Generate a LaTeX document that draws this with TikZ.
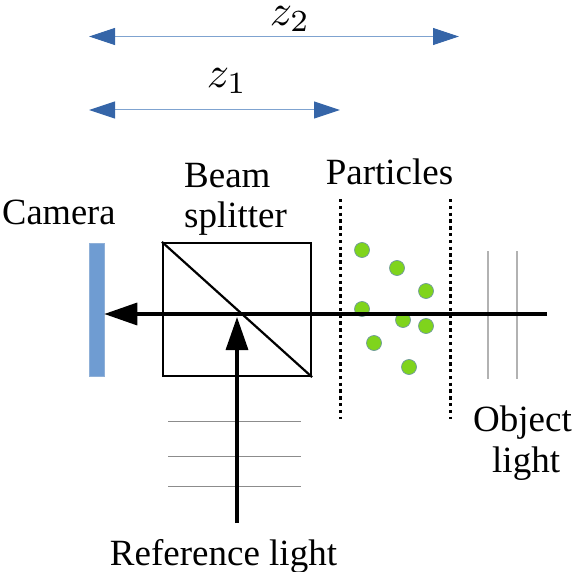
\documentclass[tikz,border=0pt]{standalone}
\usepackage{graphicx}
\usepackage{fontspec}
\setmainfont{Liberation Serif}
\usetikzlibrary{arrows.meta}
\definecolor{arrowblue}{HTML}{3565A8}
\definecolor{thinblue}{HTML}{7FA3D0}
\definecolor{camblue}{HTML}{6F9CD2}
\definecolor{camedge}{HTML}{8FB0D8}
\definecolor{partgreen}{HTML}{7FD41C}
\definecolor{partedge}{HTML}{6E9A9A}
\tikzset{
  x=1pt,y=-1pt,
  label text/.style={inner sep=0pt,font=\fontsize{37}{42}\selectfont},
  math text/.style={inner sep=0pt},
  dim line/.style={draw=thinblue,line width=1pt,{Triangle[length=26pt,width=17pt,fill=arrowblue,color=arrowblue]}-{Triangle[length=26pt,width=17pt,fill=arrowblue,color=arrowblue]}},
  box line/.style={draw=black,line width=2.2pt},
  beam/.style={draw=black,line width=3.4pt,-{Triangle[length=33pt,width=22pt]}},
  dotted wall/.style={draw=black,line width=2.4pt,dash pattern=on 3.4pt off 3.4pt},
  front/.style={draw=black!30,line width=1.4pt},
  ref wave/.style={draw=black!45,line width=.8pt},
  particle/.style={circle,draw=partedge,fill=partgreen,line width=.7pt,minimum size=15pt,inner sep=0pt},
}
\begin{document}
\begin{tikzpicture}
\useasboundingbox (0,0) rectangle (572,572);
% dimension arrows
\coordinate (z2l) at (89,36.5); \coordinate (z2r) at (459,36.5);
\coordinate (z1l) at (89,110); \coordinate (z1r) at (340,110);
\draw[dim line] (z2l) -- (z2r);
\draw[dim line] (z1l) -- (z1r);
\node[math text] (zb) at (290,19) {\scalebox{4.4}{$z_2$}};
\node[math text] (za) at (227,81) {\scalebox{4.4}{$z_1$}};
% camera
\node[draw=camedge,fill=camblue,line width=.5pt,minimum width=15pt,minimum height=133pt,inner sep=0pt] (cam) at (96.5,309.5) {};
% reference wave fronts
\coordinate (r1l) at (168,421); \coordinate (r1r) at (301,421);
\coordinate (r2l) at (168,456); \coordinate (r2r) at (301,456);
\coordinate (r3l) at (168,486); \coordinate (r3r) at (301,486);
\draw[ref wave] (r1l) -- (r1r);
\draw[ref wave] (r2l) -- (r2r);
\draw[ref wave] (r3l) -- (r3r);
% object wave fronts
\coordinate (o1t) at (488,251); \coordinate (o1b) at (488,379);
\coordinate (o2t) at (517,251); \coordinate (o2b) at (517,379);
\draw[front] (o1t) -- (o1b);
\draw[front] (o2t) -- (o2b);
% particle walls
\coordinate (w1t) at (340.5,199); \coordinate (w1b) at (340.5,419);
\coordinate (w2t) at (450.5,199); \coordinate (w2b) at (450.5,419);
\draw[dotted wall] (w1t) -- (w1b);
\draw[dotted wall] (w2t) -- (w2b);
% particles
\node[particle] (p1) at (362,250) {};
\node[particle] (p2) at (397,268) {};
\node[particle] (p3) at (426,291) {};
\node[particle] (p4) at (362,309) {};
\node[particle] (p5) at (403,320) {};
\node[particle] (p6) at (426,326) {};
\node[particle] (p7) at (374,343) {};
\node[particle] (p8) at (409,367) {};
% beam splitter
\node[box line,minimum width=148pt,minimum height=133pt,inner sep=0pt] (bs) at (237,309.5) {};
\draw[box line] (bs.north west) -- (bs.south east);
% beams
\coordinate (objs) at (547,314);
\coordinate (refs) at (237,523);
\coordinate (refe) at (237,317);
\draw[beam] (objs) -- (cam.east |- objs);
\draw[beam] (refs) -- (refe);
% labels
\node[label text,anchor=base west,xscale=.985] (lcam) at (2,224) {Camera};
\node[label text,anchor=base west] (lbs1) at (184,187) {Beam};
\node[label text,anchor=base west] (lbs2) at (184,227) {splitter};
\node[label text,anchor=base] (lpart) at (389.5,184) {Particles};
\node[label text,anchor=base west] (lobj1) at (473,431) {Object};
\node[label text,anchor=base west] (lobj2) at (492,472) {light};
\node[label text,anchor=base] (lref) at (223.5,565) {Reference light};
\end{tikzpicture}
\end{document}
